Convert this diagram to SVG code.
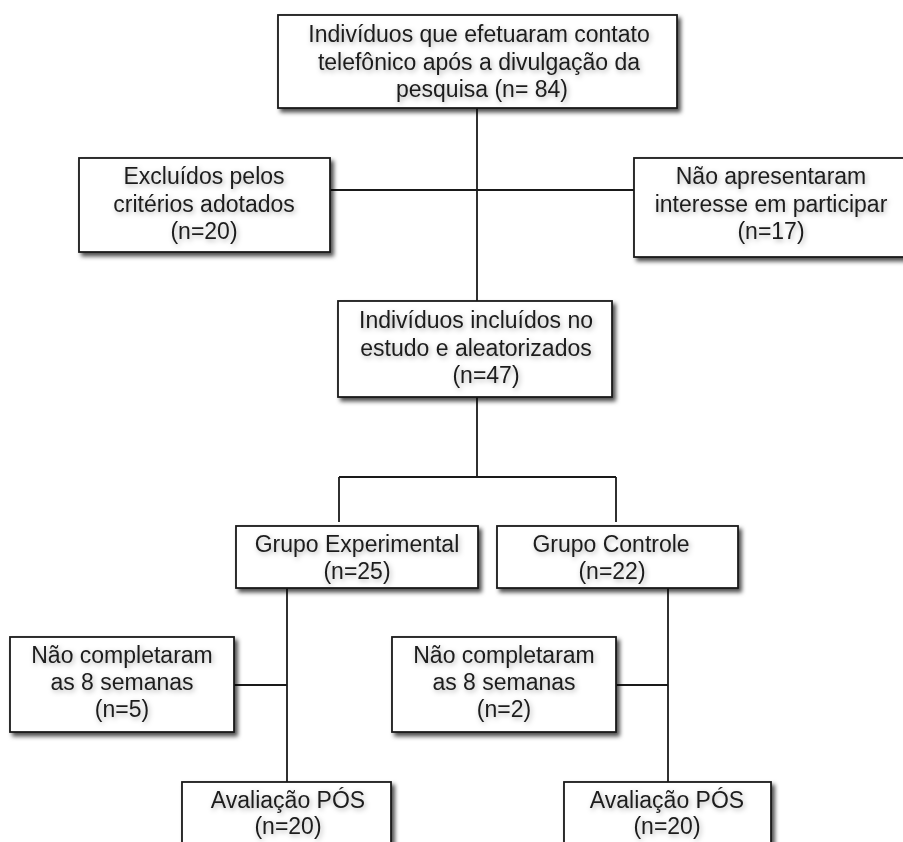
<svg xmlns="http://www.w3.org/2000/svg" width="903" height="842" viewBox="0 0 903 842">
<defs>
<filter id="bs" x="-10%" y="-10%" width="125%" height="130%">
<feDropShadow dx="3" dy="3.5" stdDeviation="2" flood-color="#000" flood-opacity="0.7"/>
</filter>
<filter id="ts" x="-10%" y="-30%" width="120%" height="160%">
<feDropShadow dx="1.5" dy="2" stdDeviation="2.5" flood-color="#000" flood-opacity="0.3"/>
</filter>
</defs>
<style>
.box{fill:#fff;stroke:#1a1a1a;stroke-width:1.8;filter:url(#bs)}
.t{font-family:"Liberation Sans",Arial,sans-serif;font-size:23px;fill:#1c1c1c;text-anchor:middle;filter:url(#ts)}
.c{stroke:#1a1a1a;stroke-width:1.8;fill:none}
</style>
<rect width="903" height="842" fill="#fff"/>
<g id="connectors">
<line class="c" x1="477" y1="108" x2="477" y2="301"/>
<line class="c" x1="330" y1="190" x2="634" y2="190"/>
<line class="c" x1="477" y1="397" x2="477" y2="477"/>
<line class="c" x1="339" y1="477" x2="616" y2="477"/>
<line class="c" x1="339" y1="477" x2="339" y2="522"/>
<line class="c" x1="616" y1="477" x2="616" y2="522"/>
<line class="c" x1="287" y1="588" x2="287" y2="782"/>
<line class="c" x1="234" y1="685" x2="287" y2="685"/>
<line class="c" x1="668" y1="588" x2="668" y2="782"/>
<line class="c" x1="616" y1="685" x2="668" y2="685"/>
</g>
<g id="n-top">
<rect class="box" x="278" y="15" width="399" height="93"/>
<text class="t" x="479" y="42">Indivíduos que efetuaram contato</text>
<text class="t" x="479" y="70">telefônico após a divulgação da</text>
<text class="t" x="482" y="97">pesquisa (n= 84)</text>
</g>
<g id="n-excluidos">
<rect class="box" x="79" y="158" width="251" height="94"/>
<text class="t" x="204" y="184">Excluídos pelos</text>
<text class="t" x="204" y="212">critérios adotados</text>
<text class="t" x="204" y="239">(n=20)</text>
</g>
<g id="n-nao-interesse">
<rect class="box" x="634" y="158" width="273" height="99"/>
<text class="t" x="771" y="184">Não apresentaram</text>
<text class="t" x="771" y="212">interesse em participar</text>
<text class="t" x="771" y="239">(n=17)</text>
</g>
<g id="n-incluidos">
<rect class="box" x="338" y="301" width="274" height="96"/>
<text class="t" x="476" y="328">Indivíduos incluídos no</text>
<text class="t" x="476" y="356">estudo e aleatorizados</text>
<text class="t" x="486" y="383">(n=47)</text>
</g>
<g id="n-experimental">
<rect class="box" x="236" y="526" width="242" height="62"/>
<text class="t" x="357" y="552">Grupo Experimental</text>
<text class="t" x="357" y="579">(n=25)</text>
</g>
<g id="n-controle">
<rect class="box" x="497" y="526" width="241" height="62"/>
<text class="t" x="611" y="552">Grupo Controle</text>
<text class="t" x="612" y="579">(n=22)</text>
</g>
<g id="n-nc-exp">
<rect class="box" x="10" y="637" width="224" height="95"/>
<text class="t" x="122" y="663">Não completaram</text>
<text class="t" x="122" y="690">as 8 semanas</text>
<text class="t" x="122" y="717">(n=5)</text>
</g>
<g id="n-nc-ctrl">
<rect class="box" x="392" y="637" width="224" height="95"/>
<text class="t" x="504" y="663">Não completaram</text>
<text class="t" x="504" y="690">as 8 semanas</text>
<text class="t" x="504" y="717">(n=2)</text>
</g>
<g id="n-pos-exp">
<rect class="box" x="182" y="782" width="209" height="80"/>
<text class="t" x="288" y="808">Avaliação PÓS</text>
<text class="t" x="288" y="834">(n=20)</text>
</g>
<g id="n-pos-ctrl">
<rect class="box" x="564" y="782" width="207" height="80"/>
<text class="t" x="667" y="808">Avaliação PÓS</text>
<text class="t" x="667" y="834">(n=20)</text>
</g>
</svg>
